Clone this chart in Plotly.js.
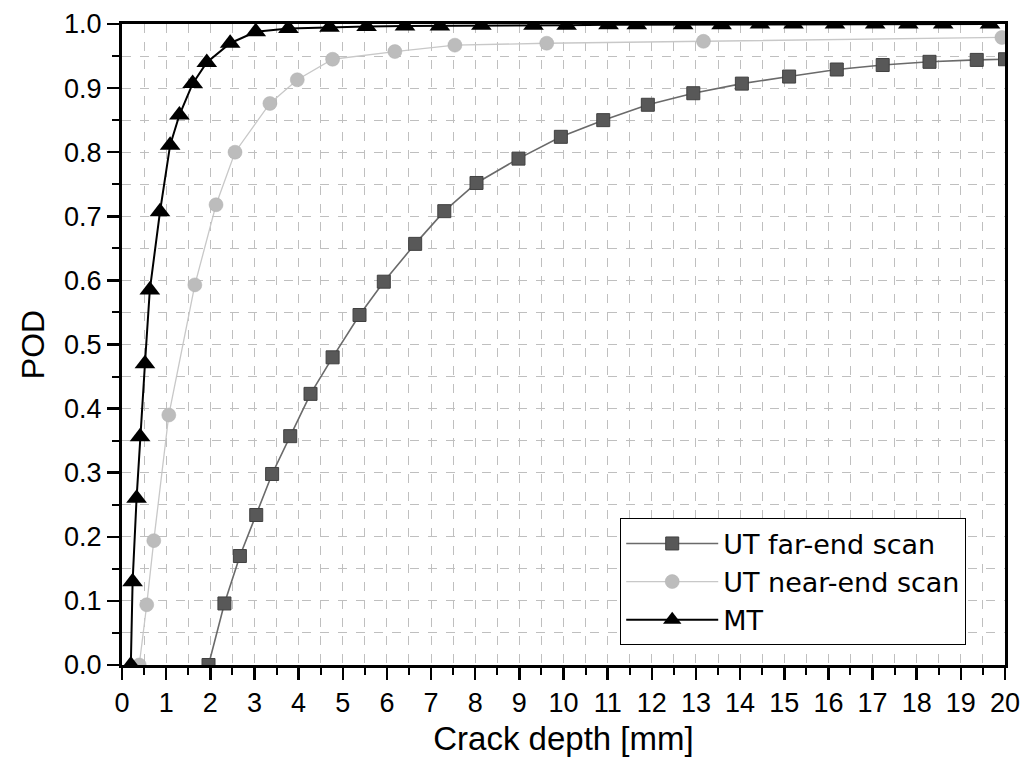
<!DOCTYPE html>
<html>
<head>
<meta charset="utf-8">
<script src="https://cdn.plot.ly/plotly-3.0.1.min.js"></script>
<style>
html,body{margin:0;padding:0;background:#fff;}
#chart{width:1023px;height:762px;}
</style>
</head>
<body>
<div id="chart"></div>
<script>
// UT far-end scan
const farX = [1.96, 2.32, 2.67, 3.04, 3.40, 3.81, 4.27, 4.77, 5.38, 5.93, 6.64, 7.30, 8.03, 8.98, 9.94, 10.90, 11.91, 12.94, 14.04, 15.11, 16.19, 17.23, 18.29, 19.36, 20.0];
const farY = [0, 0.096, 0.17, 0.234, 0.298, 0.357, 0.423, 0.48, 0.546, 0.598, 0.657, 0.708, 0.752, 0.790, 0.824, 0.850, 0.874, 0.892, 0.907, 0.918, 0.929, 0.936, 0.941, 0.944, 0.945];
// UT near-end scan
const nearX = [0.39, 0.56, 0.72, 1.06, 1.65, 2.13, 2.56, 3.35, 3.97, 4.77, 6.18, 7.54, 9.62, 13.17, 19.93];
const nearY = [0, 0.094, 0.194, 0.39, 0.593, 0.718, 0.80, 0.876, 0.913, 0.945, 0.957, 0.967, 0.970, 0.973, 0.979];
// MT
const mtX = [0.2, 0.24, 0.33, 0.41, 0.52, 0.63, 0.86, 1.09, 1.30, 1.60, 1.92, 2.45, 3.03, 3.77, 4.70, 5.54, 6.41, 7.20, 8.14, 9.32, 10.07, 11.02, 11.66, 12.71, 13.58, 14.45, 15.21, 16.15, 17.06, 17.81, 18.60, 19.66];
const mtY = [0, 0.13, 0.26, 0.356, 0.47, 0.585, 0.707, 0.811, 0.858, 0.907, 0.94, 0.97, 0.988, 0.993, 0.995, 0.996, 0.997, 0.997, 0.998, 0.998, 0.998, 0.999, 0.999, 0.999, 0.999, 1, 1, 1, 1, 1, 1, 1];

const seriesNames = ['UT far-end scan', 'UT near-end scan', 'MT'];
const xTitle = 'Crack depth [mm]';
const yTitle = 'POD';

const FONT = 'Liberation Sans, Arial, Helvetica, sans-serif';

const traces = [
  {
    x: farX, y: farY, name: seriesNames[0], type: 'scatter', mode: 'lines+markers',
    line: {color: '#6a6a6a', width: 1.6},
    marker: {symbol: 'square', size: 13, color: '#585858', line: {color: '#404040', width: 1}}
  },
  {
    x: nearX, y: nearY, name: seriesNames[1], type: 'scatter', mode: 'lines+markers',
    line: {color: '#c8c8c8', width: 1.3},
    marker: {symbol: 'circle', size: 14, color: '#bcbcbc', line: {color: '#b0b0b0', width: 0.5}}
  },
  {
    x: mtX, y: mtY, name: seriesNames[2], type: 'scatter', mode: 'lines+markers',
    line: {color: '#000', width: 2},
    marker: {symbol: 'triangle-up', size: 18, color: '#000'}
  }
];

const gridCol = '#bfbfbf';
const layout = {
  width: 1023, height: 762,
  margin: {l: 122, r: 18, t: 24, b: 97},
  paper_bgcolor: '#fff', plot_bgcolor: '#fff',
  font: {family: FONT, color: '#000'},
  showlegend: true,
  legend: {
    x: 0.564, y: 0.229, xanchor: 'left', yanchor: 'top',
    bordercolor: '#000', borderwidth: 1.2, bgcolor: '#fff',
    font: {family: 'DejaVu Sans, ' + FONT, size: 27, color: '#000'},
    itemwidth: 92, tracegroupgap: 0
  },
  xaxis: {
    range: [0, 20], dtick: 1, tick0: 0,
    showline: true, linecolor: '#000', linewidth: 3, mirror: true,
    ticks: 'outside', ticklen: 12, tickwidth: 2.5, tickcolor: '#000',
    tickfont: {family: FONT, size: 27, color: '#000'},
    showgrid: true, gridcolor: gridCol, griddash: 'dash', gridwidth: 1,
    zeroline: false,
    minor: {dtick: 0.5, tick0: 0, ticks: 'outside', ticklen: 7, tickwidth: 2, tickcolor: '#000',
            showgrid: true, gridcolor: gridCol, griddash: 'dash', gridwidth: 1},
    title: {text: xTitle, font: {family: FONT, size: 33, color: '#000'}, standoff: 10}
  },
  yaxis: {
    range: [0, 1], dtick: 0.1, tick0: 0, tickformat: '.1f',
    showline: true, linecolor: '#000', linewidth: 3, mirror: true,
    ticks: 'outside', ticklen: 12, tickwidth: 2.5, tickcolor: '#000',
    tickfont: {family: FONT, size: 27, color: '#000'},
    showgrid: true, gridcolor: gridCol, griddash: 'dash', gridwidth: 1,
    zeroline: false,
    minor: {dtick: 0.05, tick0: 0, ticks: 'outside', ticklen: 7, tickwidth: 2, tickcolor: '#000',
            showgrid: true, gridcolor: gridCol, griddash: 'dash', gridwidth: 1},
    title: {text: yTitle, font: {family: FONT, size: 32, color: '#000'}, standoff: 10}
  }
};

Plotly.newPlot('chart', traces, layout, {displayModeBar: false, staticPlot: true});
</script>
</body>
</html>
